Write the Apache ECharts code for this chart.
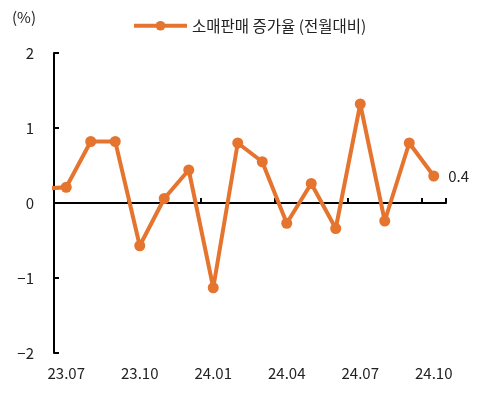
<!DOCTYPE html>
<html><head><meta charset="utf-8">
<script src="https://cdn.jsdelivr.net/npm/echarts@6/dist/echarts.min.js"></script>
<style>html,body{margin:0;padding:0;background:#fff}#c{width:478px;height:393px}</style>
</head><body><div id="c"></div>
<script>
var categories = ['23.07','23.08','23.09','23.10','23.11','23.12','24.01','24.02','24.03','24.04','24.05','24.06','24.07','24.08','24.09','24.10'];
// value of 23.06 (partly visible, clipped at the left edge)
var prevValue = 0.19;
var values = [0.21,0.82,0.82,-0.57,0.06,0.44,-1.13,0.80,0.55,-0.27,0.26,-0.34,1.32,-0.24,0.80,0.36];
var seriesName = '소매판매 증가율 (전월대비)';
var yTicks = [-2,-1,0,1,2];

var FONT = '"Noto Sans CJK KR", "Noto Sans", sans-serif';
var COLOR = '#E5742F';
var data = [[-1, prevValue]].concat(values.map(function(v,i){
  var d = {value:[i,v]};
  if (i === values.length-1) d.label = {show:true, position:'right', distance:9, formatter:function(p){return p.value[1].toFixed(1);}, color:'#222', fontSize:15, fontFamily:FONT};
  return d;
}));
var chart = echarts.init(document.getElementById('c'));
chart.setOption({
  animation:false,
  textStyle:{fontFamily:FONT},
  graphic:[{type:'text', left:12, top:10, style:{text:'(%)', font:'15px '+FONT, fill:'#222'}}],
  legend:{top:13, left:127, itemWidth:53, itemHeight:12, itemGap:6,
    lineStyle:{width:4, color:COLOR}, itemStyle:{color:COLOR},
    textStyle:{fontSize:15.5, color:'#222', fontFamily:FONT}, data:[seriesName]},
  grid:{left:54, right:32, top:53, bottom:40, containLabel:false},
  xAxis:[
    {type:'category', data:categories, position:'bottom', boundaryGap:true,
     axisLine:{onZero:true, lineStyle:{color:'#000', width:2}},
     axisTick:{show:true, inside:true, length:5, interval:2, lineStyle:{color:'#000', width:2}},
     axisLabel:{show:false}},
    {type:'category', data:categories, position:'bottom', boundaryGap:true,
     axisLine:{show:false, onZero:false}, axisTick:{show:false},
     axisLabel:{interval:2, margin:13, fontSize:15, color:'#222', fontFamily:FONT}},
    {type:'value', min:-0.5, max:categories.length-0.5, show:false}
  ],
  yAxis:{type:'value', min:yTicks[0], max:yTicks[yTicks.length-1], interval:1, position:'left',
    axisLine:{show:true, onZero:false, lineStyle:{color:'#000', width:2}},
    axisTick:{show:true, inside:true, length:5, lineStyle:{color:'#000', width:2}},
    splitLine:{show:false},
    axisLabel:{margin:20, fontSize:15, color:'#222', fontFamily:FONT, formatter:function(v){return v<0? '\u2212'+Math.abs(v): String(v);}}},
  series:[{name:seriesName, type:'line', xAxisIndex:2, data:data, clip:true,
    symbol:'circle', symbolSize:11, showAllSymbol:true,
    lineStyle:{color:COLOR, width:4}, itemStyle:{color:COLOR}}]
});
</script></body></html>
